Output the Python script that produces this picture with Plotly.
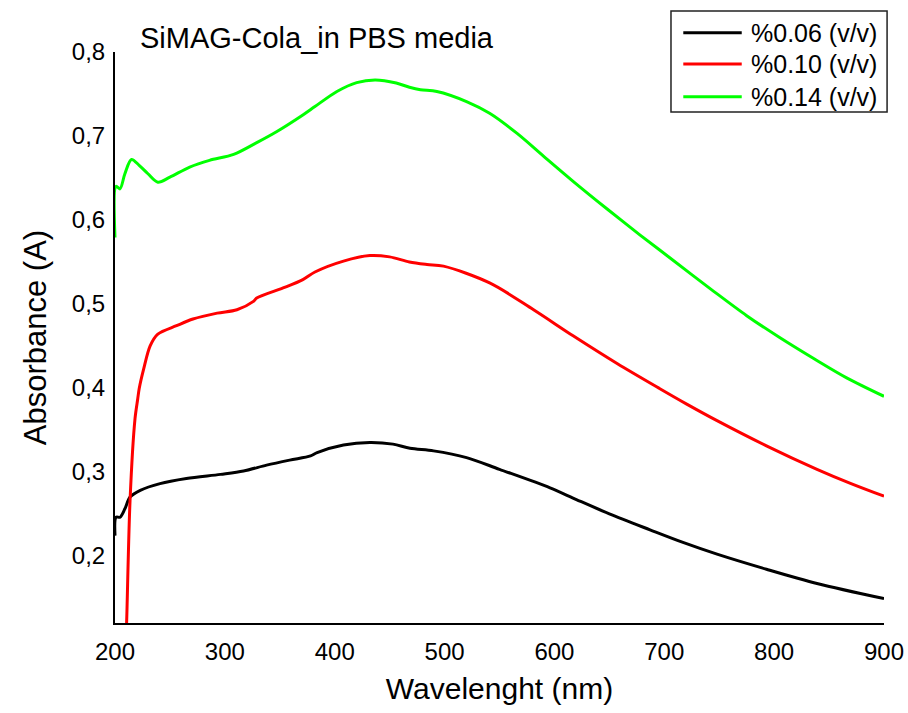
import plotly.graph_objects as go

# ---- data ----
series_names = ["%0.06 (v/v)", "%0.10 (v/v)", "%0.14 (v/v)"]
series_colors = ["#000000", "#ff0000", "#00ff00"]

wl_006 = [200, 201, 204.6, 209, 213.7, 223, 241, 265, 296, 317, 338, 359, 378, 384,
          408, 432, 453, 468.5, 490, 520, 550, 596, 620, 650, 687, 717, 748, 793, 839, 900]
abs_006 = [0.224, 0.246, 0.246, 0.256, 0.270, 0.278, 0.286, 0.292, 0.297, 0.301, 0.308, 0.314,
           0.319, 0.323, 0.332, 0.335, 0.333, 0.328, 0.325, 0.317, 0.303, 0.281, 0.267, 0.250,
           0.231, 0.216, 0.202, 0.184, 0.167, 0.149]

wl_010 = [209.5, 210.6, 213.7, 218.2, 220.7, 222, 226, 232, 239, 256, 271, 293, 311, 326, 329,
          353, 371, 382, 408, 432, 450, 468, 484, 499, 541, 581, 617, 657, 696, 720, 748,
          793, 839, 870, 900]
abs_010 = [0.08, 0.121, 0.266, 0.363, 0.387, 0.399, 0.422, 0.450, 0.464, 0.474, 0.482, 0.489,
           0.493, 0.503, 0.507, 0.519, 0.529, 0.538, 0.551, 0.5576, 0.556, 0.550, 0.547,
           0.545, 0.525, 0.493, 0.462, 0.429, 0.399, 0.381, 0.361, 0.331, 0.303, 0.286, 0.271]

wl_014 = [200, 201, 204.5, 209, 215, 222, 230, 239, 250, 268, 286, 308, 329, 347, 371, 382,
          402, 420, 437, 456, 468, 478, 493, 520, 541, 566, 590, 617, 648, 678, 705, 745,
          775, 805, 836, 866, 900]
abs_014 = [0.579, 0.640, 0.637, 0.655, 0.672, 0.665, 0.655, 0.645, 0.651, 0.663, 0.671, 0.678,
           0.692, 0.705, 0.725, 0.735, 0.753, 0.7636, 0.7667, 0.763, 0.758, 0.755, 0.753, 0.741,
           0.727, 0.703, 0.676, 0.646, 0.613, 0.582, 0.555, 0.515, 0.486, 0.460, 0.435,
           0.412, 0.390]

x_ticks = [200, 300, 400, 500, 600, 700, 800, 900]
y_ticks = [0.2, 0.3, 0.4, 0.5, 0.6, 0.7, 0.8]

title_text = "SiMAG-Cola_in PBS media"
x_title = "Wavelenght (nm)"
y_title = "Absorbance (A)"

FONT = "Liberation Sans, Arial, sans-serif"

fig = go.Figure()
for name, col, xs, ys in zip(series_names, series_colors,
                             [wl_006, wl_010, wl_014], [abs_006, abs_010, abs_014]):
    fig.add_trace(go.Scatter(x=xs, y=ys, mode="lines", name=name,
                             line=dict(color=col, width=3, shape="spline", smoothing=0.9),
                             showlegend=False))

# custom legend (box + sample lines + labels), in paper coordinates
lg_x0, lg_x1, lg_y0, lg_y1 = 0.723, 1.004, 0.895, 1.0718
row_y = [1.0335, 0.979, 0.9215]
fig.add_shape(type="rect", xref="paper", yref="paper", x0=lg_x0, x1=lg_x1, y0=lg_y0, y1=lg_y1,
              line=dict(color="#222222", width=1.5), fillcolor="white", layer="above")
for name, col, ry in zip(series_names, series_colors, row_y):
    fig.add_shape(type="line", xref="paper", yref="paper", x0=0.739, x1=0.815, y0=ry, y1=ry,
                  line=dict(color=col, width=3), layer="above")
    fig.add_annotation(xref="paper", yref="paper", x=0.825, y=ry, text=name, showarrow=False,
                       xanchor="left", yanchor="middle", font=dict(family=FONT, size=25, color="black"))

fig.update_layout(
    width=908, height=713,
    margin=dict(l=115, r=24, t=52, b=90),
    paper_bgcolor="white", plot_bgcolor="white",
    separators=",.",
    font=dict(family=FONT, color="black"),
    title=dict(text=title_text, x=0.0325, xref="paper", xanchor="left",
               y=1 - 38 / 713, yref="container", yanchor="middle",
               font=dict(family=FONT, size=29, color="black")),
    showlegend=False,
)
fig.update_xaxes(range=[200, 900], tickvals=x_ticks, showgrid=False, zeroline=False,
                 showline=True, linecolor="black", linewidth=2, mirror=False,
                 ticks="outside", ticklen=6, tickcolor="rgba(0,0,0,0)",
                 tickfont=dict(family=FONT, size=24, color="black"),
                 title=dict(text=x_title, font=dict(family=FONT, size=30, color="black"), standoff=14),
                 automargin=False)
fig.update_yaxes(range=[0.12, 0.80], tickvals=y_ticks, tickformat=".1f", showgrid=False,
                 zeroline=False, showline=True, linecolor="black", linewidth=2, mirror=False,
                 ticks="outside", ticklen=3, tickcolor="rgba(0,0,0,0)",
                 tickfont=dict(family=FONT, size=24, color="black"),
                 title=dict(text=y_title, font=dict(family=FONT, size=31, color="black"), standoff=16),
                 automargin=False)

fig.write_html("out.html")
